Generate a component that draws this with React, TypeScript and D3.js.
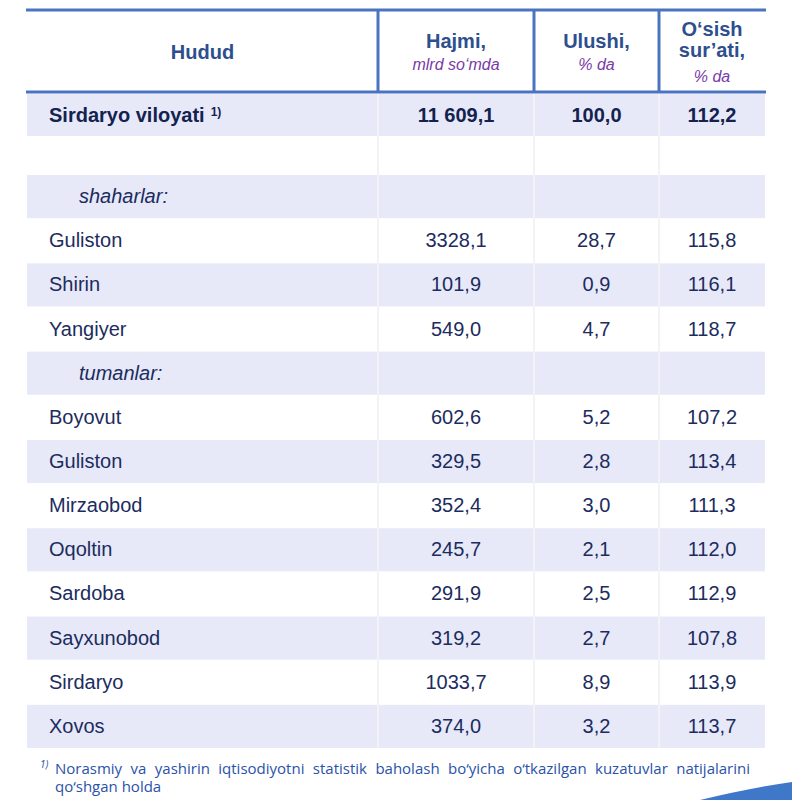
import React, { useRef, useEffect } from 'react';
import * as d3 from 'd3';

// table data
const headers = ['Hudud', 'Hajmi,', 'Ulushi,', 'O‘sish'];
const units = ['', 'mlrd so‘mda', '% da', '% da'];
const totalLabel = 'Sirdaryo viloyati';
const totalValues = [11609.1, 100.0, 112.2];
const regions = ['shaharlar:', 'Guliston', 'Shirin', 'Yangiyer', 'tumanlar:', 'Boyovut', 'Guliston', 'Mirzaobod', 'Oqoltin', 'Sardoba', 'Sayxunobod', 'Sirdaryo', 'Xovos'];
const hajmi = [null, 3328.1, 101.9, 549.0, null, 602.6, 329.5, 352.4, 245.7, 291.9, 319.2, 1033.7, 374.0];
const ulushi = [null, 28.7, 0.9, 4.7, null, 5.2, 2.8, 3.0, 2.1, 2.5, 2.7, 8.9, 3.2];
const osish = [null, 115.8, 116.1, 118.7, null, 107.2, 113.4, 111.3, 112.0, 112.9, 107.8, 113.9, 113.7];
const footnote1 = 'Norasmiy va yashirin iqtisodiyotni statistik baholash bo‘yicha o‘tkazilgan kuzatuvlar natijalarini';
const footnote2 = 'qo‘shgan holda';

const W = 792, H = 800;
const colEdges = [27, 378, 534, 659, 765];
const shade = '#e7e9f9';
const border = '#4a73c2';
const headText = '#2d4f8e';
const bodyText = '#1c2c5e';
const purple = '#7a3aa6';
const font = '"Liberation Sans", Arial, sans-serif';

const loc = d3.formatLocale({ decimal: ',', thousands: ' ', grouping: [3], currency: ['', ''] });
const fmtBig = loc.format(',.1f');
const fmt = loc.format('.1f');

const App = () => {
  const fnRef = useRef<SVGTextElement>(null);

  useEffect(() => {
    // justify the first footnote line by word spacing
    const el = fnRef.current;
    if (!el) return;
    el.setAttribute('word-spacing', '0');
    const natural = el.getComputedTextLength();
    const gaps = footnote1.split(' ').length - 1;
    el.setAttribute('word-spacing', String((750 - 55 - natural) / gaps));
  }, []);

  const rowY = d3.scaleBand<number>().domain(d3.range(regions.length)).range([174, 748]);
  const colCenter = (i: number) => (colEdges[i] + colEdges[i + 1]) / 2;
  const cols = [1, 2, 3];

  return (
    <svg width={W} height={H} style={{ position: 'absolute', left: 0, top: 0, background: '#fff' }}>
      {/* header */}
      <line x1={26} x2={766} y1={10} y2={10} stroke={border} strokeWidth={3} />
      <line x1={26} x2={766} y1={92} y2={92} stroke={border} strokeWidth={3} />
      {cols.map(i => (
        <line key={i} x1={colEdges[i]} x2={colEdges[i]} y1={10} y2={92} stroke={border} strokeWidth={3} />
      ))}
      <g fontFamily={font} fill={headText} fontWeight="bold" fontSize={20} textAnchor="middle">
        <text x={colCenter(0)} y={59}>{headers[0]}</text>
        <text x={colCenter(1)} y={48}>{headers[1]}</text>
        <text x={colCenter(2)} y={48}>{headers[2]}</text>
        <text x={colCenter(3)} y={36}>{headers[3]}</text>
        <text x={colCenter(3)} y={57}>sur’ati,</text>
      </g>
      <g fontFamily={font} fill={purple} fontStyle="italic" fontSize={16} textAnchor="middle">
        <text x={colCenter(1)} y={70}>{units[1]}</text>
        <text x={colCenter(2)} y={70}>{units[2]}</text>
        <text x={colCenter(3)} y={82}>{units[3]}</text>
      </g>

      {/* total row + spacer */}
      <rect x={colEdges[0]} y={94} width={colEdges[4] - colEdges[0]} height={42} fill={shade} />
      {/* region rows */}
      {regions.map((r, i) => (i % 2 === 0 ? (
        <rect key={i} x={colEdges[0]} y={rowY(i)! + 1} width={colEdges[4] - colEdges[0]} height={rowY.bandwidth() - 1} fill={shade} />
      ) : null))}
      {cols.map(i => (
        <line key={i} x1={colEdges[i]} x2={colEdges[i]} y1={94} y2={748} stroke="#f3f3f6" strokeWidth={2} />
      ))}

      <g fontFamily={font} fontSize={20}>
        <text x={49} y={122} fill="#13224f" fontWeight="bold">
          {totalLabel}
          <tspan fontSize={12} dx={6} dy={-6}>1)</tspan>
        </text>
        {totalValues.map((v, i) => (
          <text key={i} x={colCenter(i + 1)} y={122} fill="#13224f" fontWeight="bold" textAnchor="middle">
            {i === 0 ? fmtBig(v) : fmt(v)}
          </text>
        ))}
        {regions.map((r, i) => {
          const y = rowY(i)! + rowY.bandwidth() / 2 + 7;
          const header = hajmi[i] === null;
          return (
            <g key={i} fill={bodyText}>
              <text x={header ? 79 : 49} y={y} fontStyle={header ? 'italic' : 'normal'}>{r}</text>
              {!header && [hajmi[i], ulushi[i], osish[i]].map((v, j) => (
                <text key={j} x={colCenter(j + 1)} y={y} textAnchor="middle">{fmt(v as number)}</text>
              ))}
            </g>
          );
        })}
      </g>

      {/* footnote */}
      <g fontFamily='"Liberation Sans Narrow", "Open Sans", sans-serif' fill="#2a52a8" fontSize={15}>
        <text x={40} y={768} fontSize={10} fontStyle="italic">1)</text>
        <text ref={fnRef} x={55} y={774}>{footnote1}</text>
        <text x={55} y={792}>{footnote2}</text>
      </g>
      <path d="M700,800 Q750,788 792,782 L792,800 Z" fill="#3f78c8" />
    </svg>
  );
};

export default App;
